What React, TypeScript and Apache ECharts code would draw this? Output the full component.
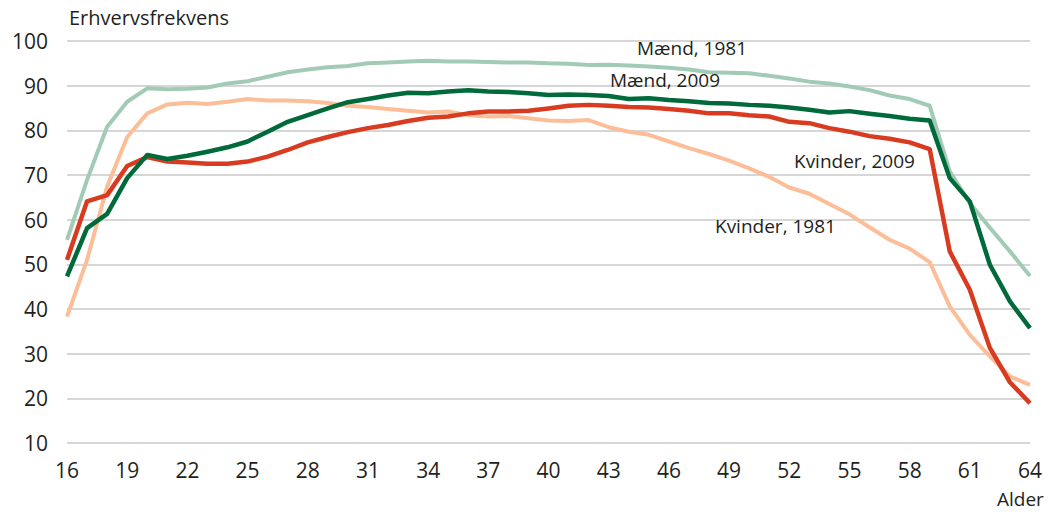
import React, { useEffect, useRef } from "react";
import * as echarts from "echarts";

const ages = Array.from({ length: 49 }, (_, i) => String(16 + i));

const maend1981 = [
  55.5, 68.9, 80.8, 86.4, 89.4, 89.2, 89.3, 89.6, 90.5, 91.0,
  92.0, 93.0, 93.6, 94.1, 94.4, 95.0, 95.2, 95.4, 95.6, 95.4,
  95.4, 95.3, 95.2, 95.2, 95.0, 94.9, 94.6, 94.7, 94.5, 94.3,
  94.0, 93.6, 93.0, 92.9, 92.8, 92.2, 91.6, 90.9, 90.5, 89.8,
  89.0, 87.8, 87.0, 85.5, 70.8, 63.7, 58.2, 52.9, 47.4,
];

const maend2009 = [
  47.3, 58.1, 61.3, 69.3, 74.5, 73.6, 74.3, 75.2, 76.2, 77.5,
  79.7, 81.9, 83.4, 84.9, 86.3, 87.0, 87.8, 88.4, 88.3, 88.7,
  89.0, 88.7, 88.6, 88.3, 87.9, 88.0, 87.9, 87.7, 87.0, 87.2,
  86.8, 86.5, 86.1, 86.0, 85.7, 85.5, 85.1, 84.6, 84.0, 84.3,
  83.7, 83.2, 82.6, 82.2, 69.3, 64.1, 49.9, 41.7, 35.7,
];

const kvinder2009 = [
  51.0, 64.1, 65.5, 72.0, 74.0, 73.0, 72.8, 72.5, 72.5, 73.0,
  74.1, 75.6, 77.3, 78.5, 79.6, 80.5, 81.2, 82.1, 82.8, 83.1,
  83.8, 84.2, 84.2, 84.4, 84.9, 85.5, 85.7, 85.5, 85.2, 85.1,
  84.8, 84.4, 83.8, 83.8, 83.4, 83.1, 81.9, 81.6, 80.5, 79.7,
  78.7, 78.1, 77.3, 75.8, 52.9, 44.3, 31.3, 23.6, 18.9,
];

const kvinder1981 = [
  38.3, 51.0, 67.4, 78.5, 83.8, 85.8, 86.2, 85.9, 86.4, 87.0,
  86.7, 86.7, 86.5, 86.1, 85.5, 85.2, 84.8, 84.4, 84.0, 84.2,
  83.4, 83.1, 83.2, 82.7, 82.2, 82.1, 82.3, 80.7, 79.7, 79.0,
  77.5, 76.0, 74.7, 73.2, 71.5, 69.6, 67.2, 65.8, 63.5, 61.2,
  58.3, 55.5, 53.5, 50.5, 40.6, 34.2, 29.4, 24.9, 23.0,
];

const seriesNames = ["Mænd, 1981", "Mænd, 2009", "Kvinder, 2009", "Kvinder, 1981"];
const yTitle = "Erhvervsfrekvens";
const xTitle = "Alder";

const FONT = "'Open Sans', sans-serif";
const TXT = "#231f20";

export default function App() {
  const ref = useRef<HTMLDivElement>(null);
  useEffect(() => {
    if (!ref.current) return;
    const chart = echarts.init(ref.current, undefined, { renderer: "svg" });
    const mk = (name: string, data: number[], color: string, width: number, z: number) => ({
      name,
      type: "line",
      data,
      symbol: "none",
      z,
      lineStyle: { color, width, join: "round" },
      itemStyle: { color },
    });
    const label = (text: string, x: number, y: number, size: number) => ({
      type: "text",
      left: x,
      top: y,
      z: 10,
      style: { text, fill: TXT, font: `${size}px ${FONT}` },
    });
    chart.setOption({
      animation: false,
      textStyle: { fontFamily: FONT },
      grid: { left: 67, right: 28, top: 41, bottom: 84 },
      xAxis: {
        type: "category",
        data: ages,
        boundaryGap: false,
        axisLine: { show: false },
        axisTick: { show: false },
        axisLabel: { interval: 2, color: TXT, fontSize: 21, margin: 16, fontFamily: FONT },
        splitLine: { show: false },
      },
      yAxis: {
        type: "value",
        min: 10,
        max: 100,
        interval: 10,
        axisLine: { show: false },
        axisTick: { show: false },
        axisLabel: { color: TXT, fontSize: 21, margin: 19, fontFamily: FONT },
        splitLine: { lineStyle: { color: "#d6d6d6", width: 2 } },
      },
      series: [
        mk(seriesNames[3], kvinder1981, "#fbbe98", 4, 1),
        mk(seriesNames[0], maend1981, "#a2cbb5", 4, 2),
        mk(seriesNames[2], kvinder2009, "#d83b1f", 4.5, 3),
        mk(seriesNames[1], maend2009, "#006a3b", 4.5, 4),
      ],
      graphic: [
        label(yTitle, 69, 7, 20),
        label(xTitle, 997, 489, 19),
        label(seriesNames[0], 637, 38, 19),
        label(seriesNames[1], 610, 70, 19),
        label(seriesNames[2], 794, 151, 19),
        label(seriesNames[3], 715, 216, 19),
      ],
    });
    return () => chart.dispose();
  }, []);
  return (
    <div
      ref={ref}
      style={{ position: "absolute", left: 0, top: 0, width: 1058, height: 527 }}
    />
  );
}
